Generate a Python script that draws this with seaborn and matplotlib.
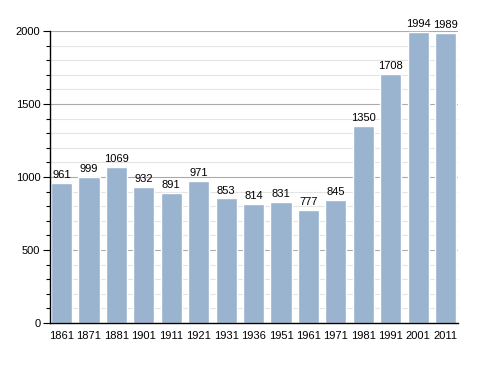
import matplotlib
matplotlib.use('Agg')
import matplotlib.pyplot as plt
import seaborn as sns
import pandas as pd
from matplotlib.ticker import MultipleLocator

years = ['1861', '1871', '1881', '1901', '1911', '1921', '1931', '1936',
         '1951', '1961', '1971', '1981', '1991', '2001', '2011']
population = [961, 999, 1069, 932, 891, 971, 853, 814, 831, 777, 845,
              1350, 1708, 1994, 1989]

df = pd.DataFrame({'year': years, 'pop': population})

sns.set_style('white')
plt.rcParams['font.family'] = ['Liberation Sans', 'DejaVu Sans']
plt.rcParams['text.color'] = 'black'
plt.rcParams['xtick.color'] = 'black'
plt.rcParams['ytick.color'] = 'black'

fig = plt.figure(figsize=(4.88, 3.73), dpi=100)
ax = fig.add_axes([0.1025, 0.134, 0.836, 0.783])

sns.barplot(data=df, x='year', y='pop', color='#9AB3CF', saturation=1,
            width=0.77, ax=ax, zorder=3)

ax.set_ylim(0, 2000)
ax.set_xlim(-0.42, len(years) - 0.55)
ax.yaxis.set_major_locator(MultipleLocator(500))
ax.yaxis.set_minor_locator(MultipleLocator(100))
ax.grid(which='major', axis='y', color='#aaaaaa', lw=0.8, zorder=0)
ax.grid(which='minor', axis='y', color='#e4e4e4', lw=0.8, zorder=0)
ax.set_axisbelow(True)

for s in ['top', 'right']:
    ax.spines[s].set_visible(False)
for s in ['left', 'bottom']:
    ax.spines[s].set_color('black')
    ax.spines[s].set_linewidth(1)
    ax.spines[s].set_zorder(5)

ax.tick_params(axis='y', which='major', left=True, length=5, width=0.8,
               labelsize=8, pad=2, labelcolor='black')
ax.tick_params(axis='y', which='minor', left=True, length=3, width=0.8)
ax.tick_params(axis='x', bottom=False, labelsize=8, pad=2, labelcolor='black')
ax.set_xlabel('')
ax.set_ylabel('')

for i, v in enumerate(population):
    ax.text(i, v + 20, str(v), ha='center', va='bottom', fontsize=8,
            color='black', clip_on=False)

fig.savefig('out.png', dpi=100)
